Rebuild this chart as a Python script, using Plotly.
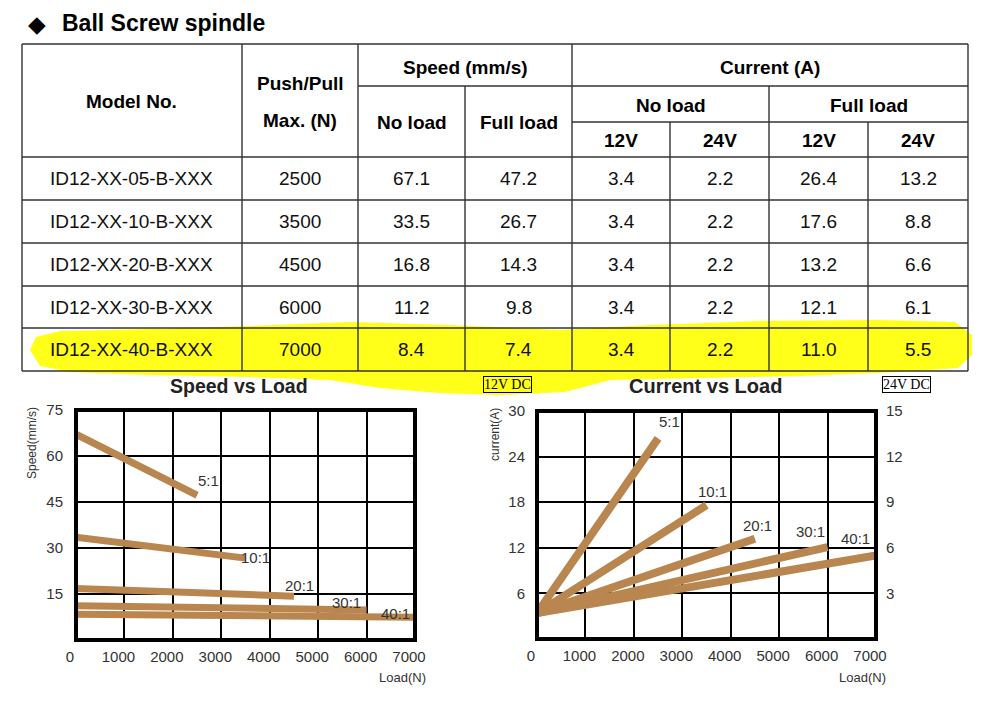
import plotly.graph_objects as go

# The page body keeps an 8px margin, so the figure is drawn 16px smaller and
# every reference pixel position is converted with that offset.
PAGE_W, PAGE_H = 1000, 717
OFF = 8
W, H = PAGE_W - 2 * OFF, PAGE_H - 2 * OFF

# ---------------- data ----------------
models = ["ID12-XX-05-B-XXX", "ID12-XX-10-B-XXX", "ID12-XX-20-B-XXX",
          "ID12-XX-30-B-XXX", "ID12-XX-40-B-XXX"]
push_pull = [2500, 3500, 4500, 6000, 7000]
speed_no_load = [67.1, 33.5, 16.8, 11.2, 8.4]
speed_full_load = [47.2, 26.7, 14.3, 9.8, 7.4]
cur_no_load_12v = [3.4, 3.4, 3.4, 3.4, 3.4]
cur_no_load_24v = [2.2, 2.2, 2.2, 2.2, 2.2]
cur_full_load_12v = [26.4, 17.6, 13.2, 12.1, 11.0]
cur_full_load_24v = [13.2, 8.8, 6.6, 6.1, 5.5]
ratios = ["5:1", "10:1", "20:1", "30:1", "40:1"]
load_ticks = [0, 1000, 2000, 3000, 4000, 5000, 6000, 7000]
speed_ticks = [15, 30, 45, 60, 75]
current_ticks_12v = [6, 12, 18, 24, 30]
current_ticks_24v = [3, 6, 9, 12, 15]

# ---------------- style ----------------
FONT = "Liberation Sans, Arial, sans-serif"
SERIF = "Liberation Serif, Times New Roman, serif"
BROWN = "#b8864e"
TXT = "#333333"
TLINE = "#333333"
YELLOW = "rgb(255,255,25)"


def px(x):
    return (x - OFF) / W


def py(y):
    return 1 - (y - OFF) / H


fig = go.Figure()

for i in range(len(ratios)):
    fig.add_trace(go.Scatter(x=[0, push_pull[i]], y=[speed_no_load[i], speed_full_load[i]],
                             mode="lines", line=dict(color=BROWN, width=7),
                             xaxis="x", yaxis="y", showlegend=False, hoverinfo="skip"))
for i in range(len(ratios)):
    fig.add_trace(go.Scatter(x=[0, push_pull[i]], y=[cur_no_load_12v[i], cur_full_load_12v[i]],
                             mode="lines", line=dict(color=BROWN, width=8),
                             xaxis="x2", yaxis="y2", showlegend=False, hoverinfo="skip"))
# empty trace so the right-hand 24V axis is drawn
fig.add_trace(go.Scatter(x=[], y=[], xaxis="x2", yaxis="y3", showlegend=False))

axis_common = dict(showgrid=True, gridcolor="black", gridwidth=2, zeroline=False,
                   showline=False, ticks="", tickfont=dict(family=FONT, size=15, color=TXT),
                   fixedrange=True, automargin=False)

fig.update_layout(
    xaxis=dict(domain=[px(76), px(415)], range=[0, 7000], tickvals=load_ticks,
               anchor="y", ticklabelshift=-6, ticklabelstandoff=6, **axis_common),
    yaxis=dict(domain=[py(640), py(410)], range=[0, 75], tickvals=speed_ticks,
               anchor="x", ticklabelstandoff=12, **axis_common),
    xaxis2=dict(domain=[px(537), px(876)], range=[0, 7000], tickvals=load_ticks,
                anchor="y2", ticklabelshift=-6, ticklabelstandoff=6, **axis_common),
    yaxis2=dict(domain=[py(639), py(411)], range=[0, 30], tickvals=current_ticks_12v,
                anchor="x2", ticklabelstandoff=11, **axis_common),
    yaxis3=dict(range=[0, 15], tickvals=current_ticks_24v, overlaying="y2", side="right",
                anchor="x2", showgrid=False, zeroline=False, showline=False, ticks="",
                ticklabelstandoff=9, tickfont=dict(family=FONT, size=15, color=TXT),
                fixedrange=True, automargin=False),
)

shapes = []

# yellow highlighter stroke
hl_pts = [(30, 350), (36, 337), (60, 331), (150, 329), (250, 326), (350, 322), (450, 325),
          (560, 330), (650, 325), (760, 321), (880, 320), (955, 322), (972, 335), (972, 355),
          (958, 368), (900, 372), (800, 376), (700, 378), (610, 380), (565, 392), (500, 395),
          (440, 393), (380, 388), (330, 380), (250, 377), (150, 375), (70, 372), (40, 366)]
path = "M " + " L ".join(f"{px(x):.5f},{py(y):.5f}" for x, y in hl_pts) + " Z"
shapes.append(dict(type="path", path=path, xref="paper", yref="paper",
                   fillcolor=YELLOW, line=dict(width=0), layer="below"))

# chart frames
for xr, yr in (("x domain", "y domain"), ("x2 domain", "y2 domain")):
    shapes.append(dict(type="rect", xref=xr, yref=yr, x0=0, x1=1, y0=0, y1=1,
                       line=dict(color="black", width=4), layer="above"))

# ---------------- table grid ----------------
cols = [22, 242, 358, 465, 572, 670, 769, 868, 968]
top, r1, r2 = 44, 86, 122
rows = [157, 200, 243, 286, 328, 371]


def hline(y, x0, x1):
    shapes.append(dict(type="line", xref="paper", yref="paper", x0=px(x0), x1=px(x1),
                       y0=py(y), y1=py(y), line=dict(color=TLINE, width=1.4)))


def vline(x, y0, y1):
    shapes.append(dict(type="line", xref="paper", yref="paper", x0=px(x), x1=px(x),
                       y0=py(y0), y1=py(y1), line=dict(color=TLINE, width=1.4)))


hline(top, cols[0], cols[-1])
hline(r1, cols[2], cols[-1])
hline(r2, cols[4], cols[-1])
for y in rows:
    hline(y, cols[0], cols[-1])
for x in (cols[0], cols[1], cols[2], cols[4], cols[-1]):
    vline(x, top, rows[-1])
vline(cols[3], r1, rows[-1])
vline(cols[6], r1, rows[-1])
vline(cols[5], r2, rows[-1])
vline(cols[7], r2, rows[-1])

ann = []


def text(x, y, s, size=18, bold=False, color="black", family=FONT, xanchor="center", **kw):
    ann.append(dict(x=px(x), y=py(y), xref="paper", yref="paper", showarrow=False,
                    text=f"<b>{s}</b>" if bold else s, xanchor=xanchor, yanchor="middle",
                    font=dict(family=family, size=size, color=color), **kw))


def mid(a, b):
    return (a + b) / 2


# heading and table header
text(37, 24, "◆", size=23)
text(60, 23, "Ball Screw spindle", size=23, bold=True, xanchor="left")
text(mid(cols[0], cols[1]), 101, "Model No.", size=19, bold=True)
text(mid(cols[1], cols[2]), 84, "Push/Pull", size=19, bold=True)
text(mid(cols[1], cols[2]), 120, "Max. (N)", size=19, bold=True)
text(mid(cols[2], cols[4]), 67, "Speed (mm/s)", size=19, bold=True)
text(mid(cols[2], cols[3]), 123, "No load", size=19, bold=True)
text(mid(cols[3], cols[4]), 123, "Full load", size=19, bold=True)
text(mid(cols[4], cols[-1]), 67, "Current (A)", size=19, bold=True)
text(mid(cols[4], cols[6]), 105, "No load", size=19, bold=True)
text(mid(cols[6], cols[-1]), 105, "Full load", size=19, bold=True)
for k, lab in enumerate(["12V", "24V", "12V", "24V"]):
    text(mid(cols[4 + k], cols[5 + k]), 140, lab, size=19, bold=True)

# table body
for i in range(len(models)):
    yc = mid(rows[i], rows[i + 1])
    vals = [models[i], f"{push_pull[i]}", f"{speed_no_load[i]:.1f}", f"{speed_full_load[i]:.1f}",
            f"{cur_no_load_12v[i]:.1f}", f"{cur_no_load_24v[i]:.1f}",
            f"{cur_full_load_12v[i]:.1f}", f"{cur_full_load_24v[i]:.1f}"]
    for c, v in enumerate(vals):
        text(mid(cols[c], cols[c + 1]), yc, v, size=19, color="#111111")

# chart titles and labels
text(239, 386, "Speed vs Load", size=19.5, bold=True, color="#222222")
text(705, 386, "Current vs Load", size=20, bold=True, color="#222222")
text(507.5, 384.5, "12V DC", size=14, family=SERIF, bordercolor="black", borderwidth=1,
     borderpad=0, bgcolor=YELLOW)
text(906, 384.5, "24V DC", size=14, family=SERIF, bordercolor="black", borderwidth=1,
     borderpad=0, bgcolor="white")
text(402, 677, "Load(N)", size=13, color=TXT)
text(862, 677, "Load(N)", size=13, color=TXT)
text(32, 443, "Speed(mm/s)", size=12, color=TXT, textangle=-90)
text(495, 435, "current(A)", size=12, color=TXT, textangle=-90)

# ratio labels anchored at each line's end, nudged in pixels
speed_shift = [(11, 15), (10, 1), (6, 11), (-20, 7), (-20, 4)]
cur_shift = [(11, 17), (6, 14), (3, 13), (-17, 16), (-21, 17)]
for i, r in enumerate(ratios):
    ann.append(dict(x=push_pull[i], y=speed_full_load[i], xref="x", yref="y", text=r,
                    showarrow=False, xshift=speed_shift[i][0], yshift=speed_shift[i][1],
                    font=dict(family=FONT, size=15, color=TXT)))
    ann.append(dict(x=push_pull[i], y=cur_full_load_12v[i], xref="x2", yref="y2", text=r,
                    showarrow=False, xshift=cur_shift[i][0], yshift=cur_shift[i][1],
                    font=dict(family=FONT, size=15, color=TXT)))

fig.update_layout(width=W, height=H, margin=dict(l=0, r=0, t=0, b=0),
                  paper_bgcolor="white", plot_bgcolor="white",
                  shapes=shapes, annotations=ann, showlegend=False,
                  font=dict(family=FONT))

fig.write_html("out.html", config={"displayModeBar": False})
